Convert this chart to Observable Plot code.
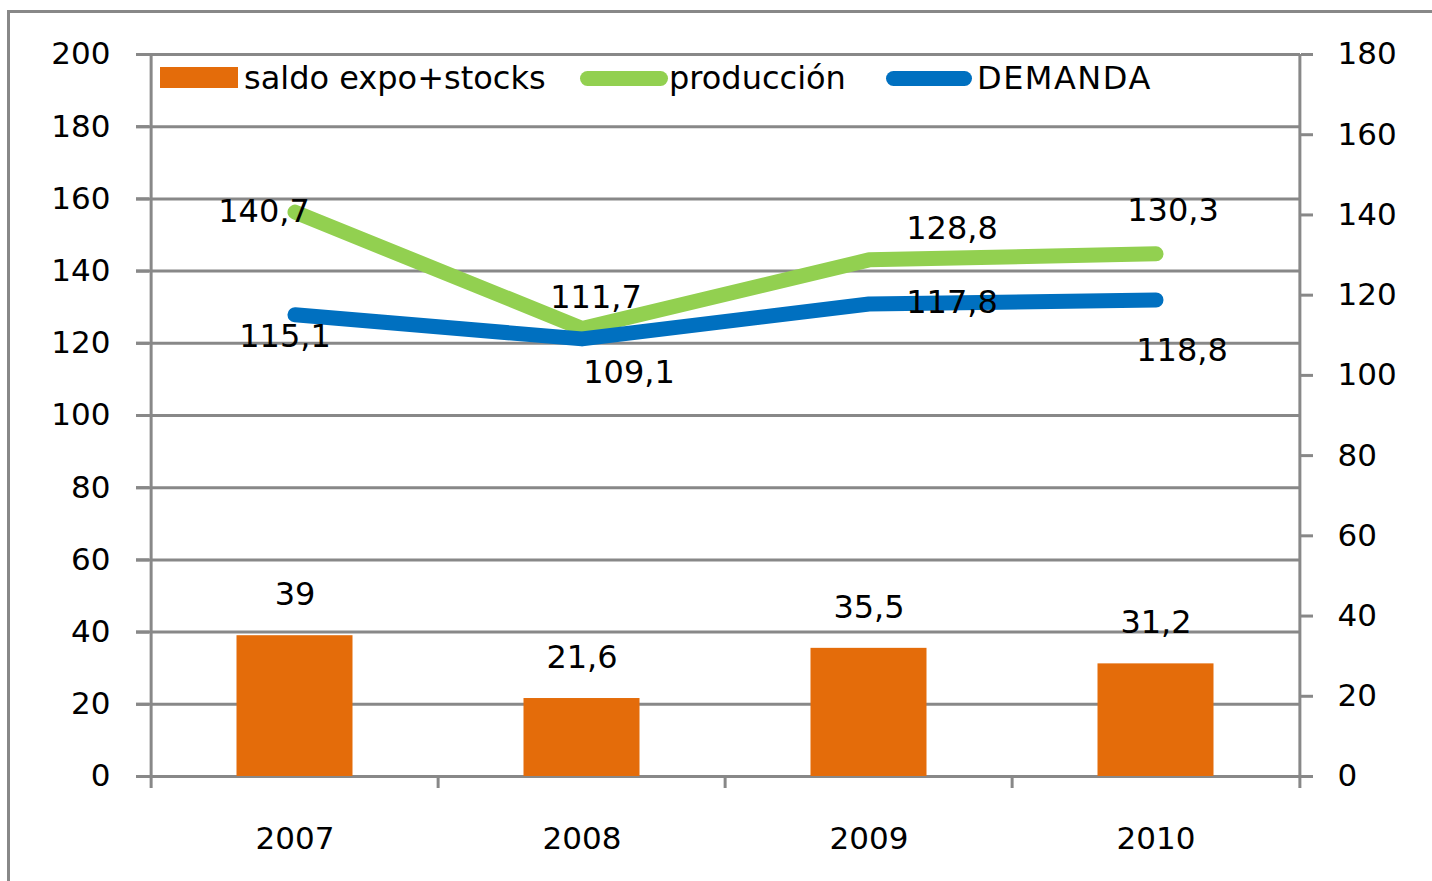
<!DOCTYPE html>
<html>
<head>
<meta charset="utf-8">
<script src="https://cdn.jsdelivr.net/npm/d3@7"></script>
<script src="https://cdn.jsdelivr.net/npm/@observablehq/plot@0.6"></script>
<style>
html, body { margin: 0; padding: 0; background: #fff; overflow: hidden; }
#wrap { position: relative; width: 1432px; height: 881px; font-family: "DejaVu Sans", Verdana, sans-serif; }
#frame { position: absolute; left: 7px; top: 10px; width: 1500px; height: 1000px; border: 3px solid #888; box-sizing: border-box; }
#chart { position: absolute; left: 0; top: 0; }
.lt { position: absolute; top: 60px; height: 36px; line-height: 36px; font-size: 32px; color: #000; white-space: nowrap; }
.sw { position: absolute; }
</style>
</head>
<body>
<div id="wrap">
  <div id="frame"></div>
  <div id="chart"></div>
  <div id="legend"></div>
</div>
<script>
// ---- data ----
const years = ["2007", "2008", "2009", "2010"];
const saldo = [39, 21.6, 35.5, 31.2];
const produccion = [140.7, 111.7, 128.8, 130.3];
const demanda = [115.1, 109.1, 117.8, 118.8];
const leftTicks = [0, 20, 40, 60, 80, 100, 120, 140, 160, 180, 200];
const rightTicks = [0, 20, 40, 60, 80, 100, 120, 140, 160, 180];
const seriesNames = ["saldo expo+stocks", "producción", "DEMANDA"];

// ---- style ----
const colSaldo = "#E46C0A", colProd = "#92D050", colDem = "#0070C0", grid = "#888";
const fs = 31;
const W = 1432, H = 881, mL = 149, mR = 132, mT = 54, mB = 105;
const bw = (W - mL - mR) / years.length;
const k = 200 / 180; // right-axis (0–180) mapped onto left scale (0–200)
// per-label offsets (pixels) for line labels, as placed in the original
const prodOff = [[-31, 0], [14, -31], [83, -31], [17, -43]];
const demOff = [[-10, 22], [47, 34], [83, -1], [26, 51]];

const fmt = v => String(v).replace(".", ",");

const barData = years.map((y, i) => ({year: y, value: saldo[i]}));
const prodData = years.map((y, i) => ({year: y, value: produccion[i]}));
const demData = years.map((y, i) => ({year: y, value: demanda[i]}));

const lineLabels = (data, offs) => data.map((d, i) =>
  Plot.text([d], {x: "year", y: d => d.value * k, text: d => fmt(d.value),
    dx: offs[i][0], dy: offs[i][1], fontSize: 32, fill: "#000"}));

const chart = Plot.plot({
  width: W, height: H,
  marginLeft: mL, marginRight: mR, marginTop: mT, marginBottom: mB,
  style: {fontFamily: '"DejaVu Sans", Verdana, sans-serif', background: "transparent", overflow: "visible"},
  x: {type: "band", domain: years, padding: 0, axis: null, label: null},
  y: {domain: [0, 200], axis: null, label: null},
  marks: [
    // gridlines with left ticks
    Plot.ruleY(leftTicks, {stroke: grid, strokeWidth: 3, insetLeft: -13}),
    // bars
    Plot.barY(barData, {x: "year", y: "value", fill: colSaldo, insetLeft: 85.5, insetRight: 85.5}),
    // left & right vertical axis lines
    Plot.ruleX([years[0]], {dx: -bw / 2, stroke: grid, strokeWidth: 3, insetBottom: -12}),
    Plot.ruleX([years[years.length - 1]], {dx: bw / 2, stroke: grid, strokeWidth: 3, insetBottom: -12}),
    // x category boundary ticks
    Plot.ruleX(years.slice(1), {dx: -bw / 2, y1: 0, y2: 0, insetBottom: -12, stroke: grid, strokeWidth: 3}),
    // lines (right axis)
    Plot.lineY(prodData, {x: "year", y: d => d.value * k, stroke: colProd, strokeWidth: 15, strokeLinecap: "round", strokeLinejoin: "round"}),
    Plot.lineY(demData, {x: "year", y: d => d.value * k, stroke: colDem, strokeWidth: 15, strokeLinecap: "round", strokeLinejoin: "round"}),
    // axes
    Plot.axisY(leftTicks, {anchor: "left", tickSize: 13, tickPadding: 26, stroke: grid, strokeWidth: 3, fill: "#000", fontSize: fs, label: null}),
    Plot.axisY(rightTicks.map(v => v * k), {anchor: "right", tickSize: 12, tickPadding: 25, stroke: grid, strokeWidth: 3, fill: "#000", fontSize: fs, tickFormat: d => String(Math.round(d / k)), label: null}),
    Plot.axisX(years, {anchor: "bottom", tickSize: 0, tickPadding: 50, fill: "#000", fontSize: fs, label: null}),
    // labels
    Plot.text(barData, {x: "year", y: "value", text: d => fmt(d.value), dy: -41, fontSize: 32, fill: "#000"}),
    ...lineLabels(prodData, prodOff),
    ...lineLabels(demData, demOff)
  ]
});
document.getElementById("chart").appendChild(chart);

// legend (inside the plot area, top)
const legend = document.getElementById("legend");
legend.innerHTML = `
  <div class="sw" style="left:160px;top:67px;width:78px;height:21px;background:${colSaldo}"></div>
  <div class="lt" style="left:244px">${seriesNames[0]}</div>
  <div class="sw" style="left:580px;top:71px;width:88px;height:15px;border-radius:7.5px;background:${colProd}"></div>
  <div class="lt" style="left:669px">${seriesNames[1]}</div>
  <div class="sw" style="left:886px;top:71px;width:86px;height:15px;border-radius:7.5px;background:${colDem}"></div>
  <div class="lt" style="left:977px;letter-spacing:1.5px">${seriesNames[2]}</div>
`;
</script>
</body>
</html>
